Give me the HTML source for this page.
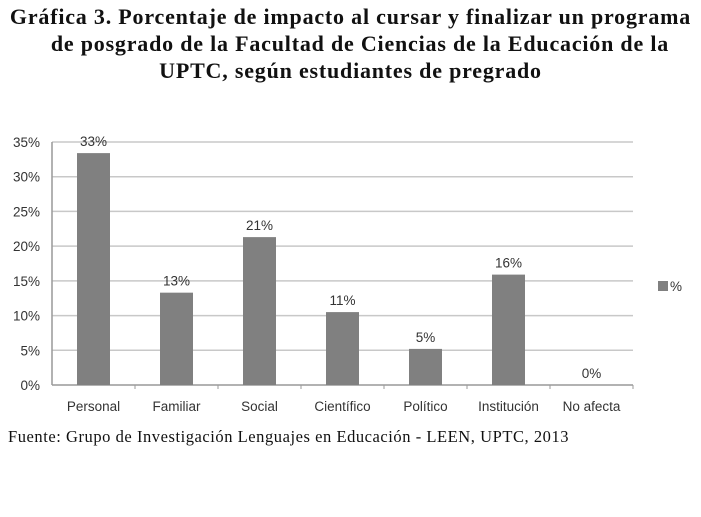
<!DOCTYPE html>
<html><head><meta charset="utf-8">
<style>
body{margin:0;width:701px;height:517px;background:#fff;overflow:hidden;position:relative;font-family:"Liberation Serif",serif}
#title{position:absolute;left:0;top:3px;width:701px;text-align:center;font-weight:bold;font-size:22px;letter-spacing:0.8px;line-height:27px;color:#111}
#foot{position:absolute;left:8px;top:427px;font-size:16.5px;letter-spacing:0.55px;color:#111}
svg{position:absolute;left:0;top:0}
svg text{font-family:"Liberation Sans","DejaVu Sans",sans-serif;font-size:13.5px;fill:#333}
</style></head><body>
<div id="title">Gráfica 3. Porcentaje de impacto al cursar y finalizar un programa<br>&nbsp;&nbsp;&nbsp;de posgrado de la Facultad de Ciencias de la Educación de la<br>UPTC, según estudiantes de pregrado</div>
<svg id="chart" width="701" height="517"></svg>
<div id="foot">Fuente: Grupo de Investigación Lenguajes en Educación - LEEN, UPTC, 2013</div>
<script>
const categories=["Personal","Familiar","Social","Científico","Político","Institución","No afecta"];
const values=[33.4,13.3,21.3,10.5,5.2,15.9,0];
const valueLabels=["33%","13%","21%","11%","5%","16%","0%"];
const ticks=[0,5,10,15,20,25,30,35];
const tickLabels=["0%","5%","10%","15%","20%","25%","30%","35%"];
const svg=document.getElementById('chart');const NS='http://www.w3.org/2000/svg';
const x0=52,x1=633,y0=385,yTop=142,maxV=35;
const y=v=>y0-(v/maxV)*(y0-yTop);
const bw=(x1-x0)/categories.length;
const xc=i=>x0+bw*(i+0.5);
function mk(t,a){const e=document.createElementNS(NS,t);for(const k in a)e.setAttribute(k,a[k]);svg.appendChild(e);return e;}
ticks.forEach((t,i)=>{
 if(t>0){const g=mk('line',{x1:x0,x2:x1,y1:y(t),y2:y(t),stroke:'#c8c8c8','stroke-width':1.5});
 
 }
 const l=mk('text',{x:40,y:y(t)+5,'text-anchor':'end','font-size':'15px'});l.textContent=tickLabels[i];
 
 
});
const ax=mk('line',{x1:x0,x2:x0,y1:yTop,y2:y0,stroke:'#999','stroke-width':1.5});


const bx=mk('line',{x1:x0,x2:x1,y1:y0,y2:y0,stroke:'#999','stroke-width':1.5});


categories.forEach((c,i)=>{
 const tk=mk('line',{x1:x0+bw*(i+1),x2:x0+bw*(i+1),y1:y0,y2:y0+4,stroke:'#999'});
 
 
 const r=mk('rect',{x:xc(i)-16.5,y:y(values[i]),width:33,height:y0-y(values[i]),fill:'#808080'});
 
 
 const v=mk('text',{x:xc(i),y:y(values[i])-7,'text-anchor':'middle'});v.textContent=valueLabels[i];
 
 
 const l=mk('text',{x:xc(i),y:y0+26,'text-anchor':'middle'});l.textContent=c;
 
 
});
const lg=mk('rect',{x:658,y:281,width:10,height:10,fill:'#808080'});


const lt=mk('text',{x:670,y:291});lt.textContent='%';


</script>
</body></html>
